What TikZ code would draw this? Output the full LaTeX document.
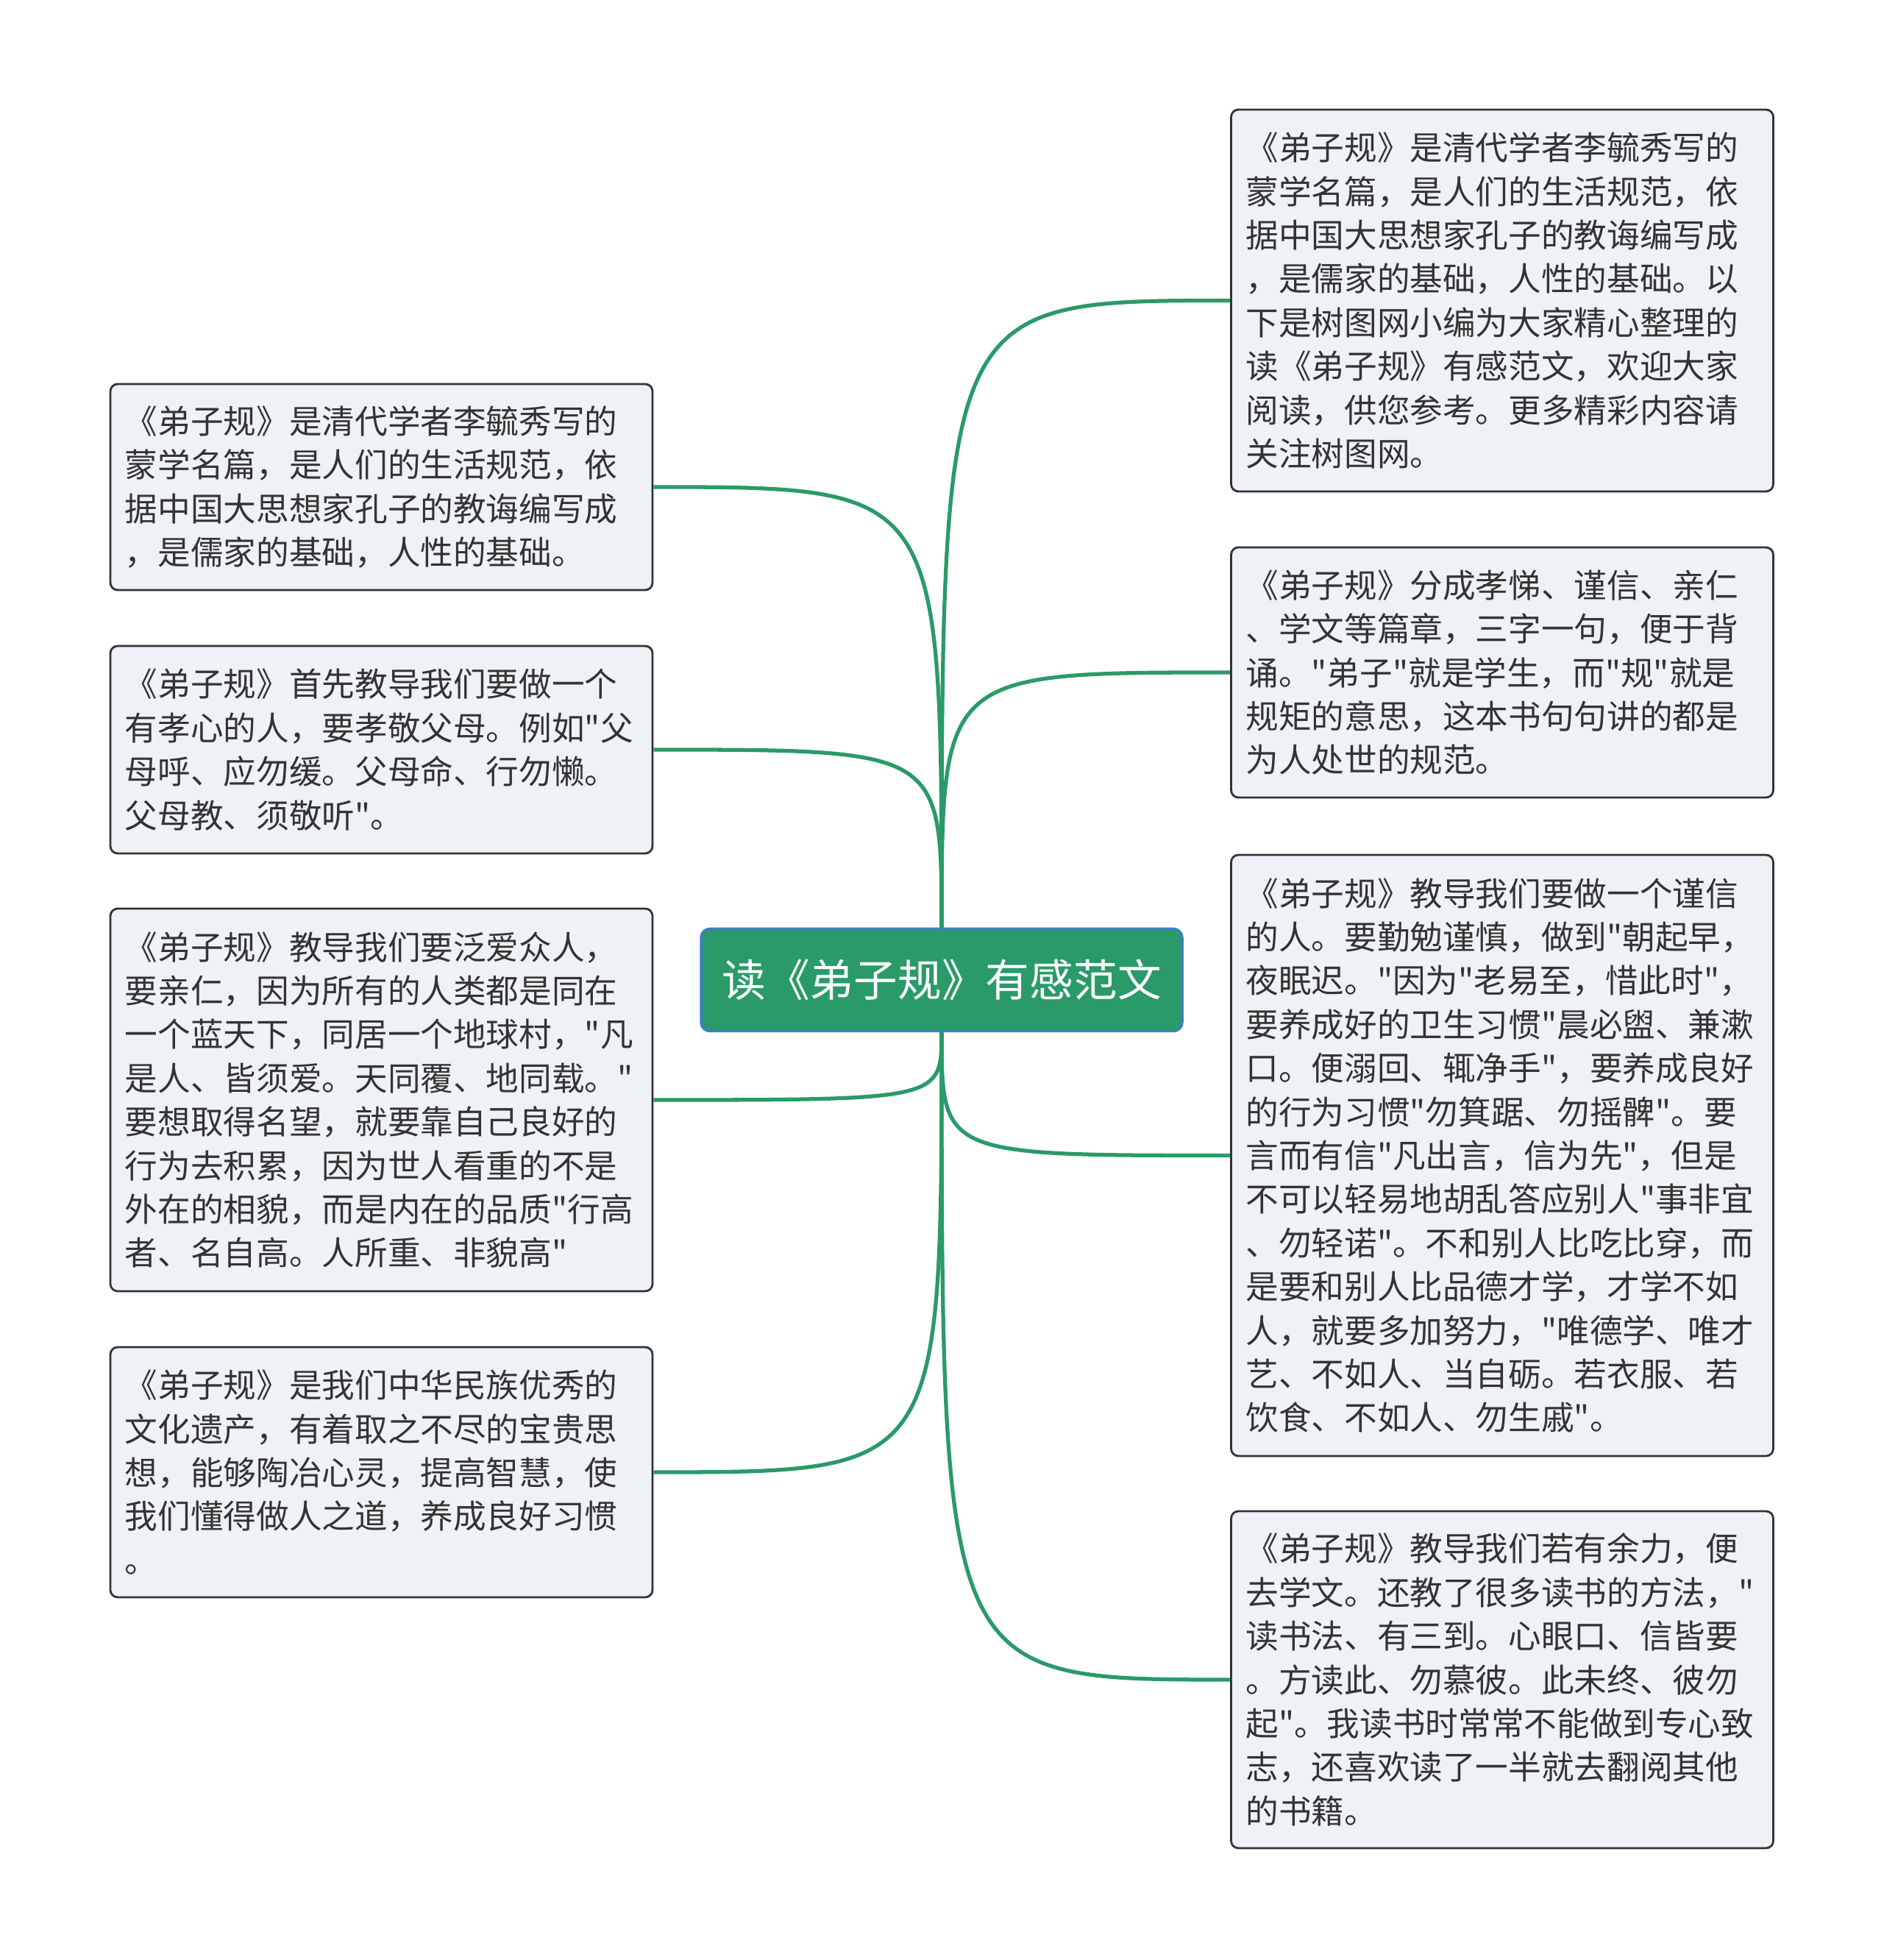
\documentclass[tikz,border=0pt]{standalone}
\usepackage{fontspec}
\newfontfamily\cjkfont{Noto Sans CJK SC}
\usetikzlibrary{arrows}

\definecolor{stemgreen}{HTML}{2A9A68}
\definecolor{rootblue}{HTML}{3C7FC6}
\definecolor{leafgray}{HTML}{EEF1F5}
\definecolor{inkgray}{HTML}{333333}

\begin{document}
\begin{tikzpicture}[
    leaf/.style={draw=inkgray,fill=leafgray,line width=0.8pt,rounded corners=0.1cm,
        text=inkgray,align=left,text width=6.97cm,inner xsep=0.2cm,inner ysep=0cm,
        font=\cjkfont\fontsize{12.7}{16.9}\selectfont},
    root/.style={draw=rootblue,fill=stemgreen,line width=1pt,rounded corners=0.12cm,
        text=white,minimum width=6.54cm,minimum height=1.39cm,
        font=\cjkfont\fontsize{17}{20}\selectfont},
    branch/.style={draw=stemgreen,line width=1.5pt}]

		\useasboundingbox[fill=white] (0,0) rectangle (25.6,26.64);

		\node[root] (Root) at (12.80,13.32) {读《弟子规》有感范文};

		\node[leaf,minimum height=2.80cm] (Origin) at (5.185,20.02) {《弟子规》是清代学者李毓秀写的\\蒙学名篇，是人们的生活规范，依\\据中国大思想家孔子的教诲编写成\\，是儒家的基础，人性的基础。};
		\node[leaf,minimum height=2.82cm] (Filial) at (5.185,16.45) {《弟子规》首先教导我们要做一个\\有孝心的人，要孝敬父母。例如"父\\母呼、应勿缓。父母命、行勿懒。\\父母教、须敬听"。};
		\node[leaf,minimum height=5.20cm] (Love) at (5.185,11.69) {《弟子规》教导我们要泛爱众人，\\要亲仁，因为所有的人类都是同在\\一个蓝天下，同居一个地球村，"凡\\是人、皆须爱。天同覆、地同载。"\\要想取得名望，就要靠自己良好的\\行为去积累，因为世人看重的不是\\外在的相貌，而是内在的品质"行高\\者、名自高。人所重、非貌高"};
		\node[leaf,minimum height=3.40cm] (Heritage) at (5.185,6.63) {《弟子规》是我们中华民族优秀的\\文化遗产，有着取之不尽的宝贵思\\想，能够陶冶心灵，提高智慧，使\\我们懂得做人之道，养成良好习惯\\。};

		\node[leaf,minimum height=5.19cm] (Intro) at (20.42,22.555) {《弟子规》是清代学者李毓秀写的\\蒙学名篇，是人们的生活规范，依\\据中国大思想家孔子的教诲编写成\\，是儒家的基础，人性的基础。以\\下是树图网小编为大家精心整理的\\读《弟子规》有感范文，欢迎大家\\阅读，供您参考。更多精彩内容请\\关注树图网。};
		\node[leaf,minimum height=3.40cm] (Parts) at (20.42,17.50) {《弟子规》分成孝悌、谨信、亲仁\\、学文等篇章，三字一句，便于背\\诵。"弟子"就是学生，而"规"就是\\规矩的意思，这本书句句讲的都是\\为人处世的规范。};
		\node[leaf,minimum height=8.17cm] (Faith) at (20.42,10.935) {《弟子规》教导我们要做一个谨信\\的人。要勤勉谨慎，做到"朝起早，\\夜眠迟。"因为"老易至，惜此时"，\\要养成好的卫生习惯"晨必盥、兼漱\\口。便溺回、辄净手"，要养成良好\\的行为习惯"勿箕踞、勿摇髀"。要\\言而有信"凡出言，信为先"，但是\\不可以轻易地胡乱答应别人"事非宜\\、勿轻诺"。不和别人比吃比穿，而\\是要和别人比品德才学，才学不如\\人，就要多加努力，"唯德学、唯才\\艺、不如人、当自砺。若衣服、若\\饮食、不如人、勿生戚"。};
		\node[leaf,minimum height=4.58cm] (Study) at (20.42,3.81) {《弟子规》教导我们若有余力，便\\去学文。还教了很多读书的方法，"\\读书法、有三到。心眼口、信皆要\\。方读此、勿慕彼。此未终、彼勿\\起"。我读书时常常不能做到专心致\\志，还喜欢读了一半就去翻阅其他\\的书籍。};

		\draw[branch] (Root.north) .. controls (Root.north |- Origin.east) .. (Origin.east);
		\draw[branch] (Root.north) .. controls (Root.north |- Filial.east) .. (Filial.east);
		\draw[branch] (Root.south) .. controls (Root.south |- Love.east) .. (Love.east);
		\draw[branch] (Root.south) .. controls (Root.south |- Heritage.east) .. (Heritage.east);

		\draw[branch] (Root.north) .. controls (Root.north |- Intro.west) .. (Intro.west);
		\draw[branch] (Root.north) .. controls (Root.north |- Parts.west) .. (Parts.west);
		\draw[branch] (Root.south) .. controls (Root.south |- Faith.west) .. (Faith.west);
		\draw[branch] (Root.south) .. controls (Root.south |- Study.west) .. (Study.west);

	\end{tikzpicture}
\end{document}
